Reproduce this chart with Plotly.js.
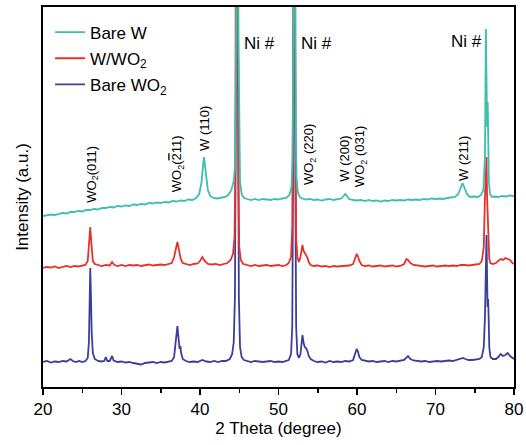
<!DOCTYPE html>
<html>
<head>
<meta charset="utf-8">
<script src="https://cdn.plot.ly/plotly-3.0.1.min.js"></script>
<style>
  html, body { margin: 0; padding: 0; background: #fff; }
  #chart { width: 526px; height: 445px; }
</style>
</head>
<body>
<div id="chart"></div>
<script>
// XRD patterns, [2θ (degree), intensity (a.u., stacked offset included)]
const bareWO2 = [
  [20,25],[20.5,26],[21,24.5],[21.5,25.5],[22,25],[22.5,26],[23,25.5],[23.5,28],[23.8,26],[24.2,25],
  [24.6,26],[25,25],[25.4,26],[25.7,29],[25.85,45],[25.95,100],[26.02,119],[26.1,95],[26.2,55],[26.35,34],
  [26.6,28],[27,26],[27.4,25.5],[27.8,26],[28.0,30],[28.2,26],[28.5,26],[28.8,31],[29.0,26.5],[29.5,25],
  [30,25.5],[30.5,24.5],[31,25],[31.5,24],[32,23.5],[32.5,22.5],[33,24],[33.5,24.5],[34,25],[34.5,24],
  [35,25],[35.5,24.5],[36,25],[36.4,26],[36.7,30],[36.9,45],[37.05,57],[37.12,61],[37.25,50],[37.4,38],
  [37.5,41],[37.6,34],[37.8,28],[38.2,26],[38.7,25],[39.2,25.5],[39.7,25],[40.3,27],[40.8,25.5],[41.3,25],
  [41.8,26],[42.3,25],[42.8,26],[43.3,26],[43.8,28],[44.1,33],[44.3,45],[44.45,90],[44.55,250],[44.65,600],
  [44.75,600],[44.85,300],[44.95,90],[45.1,40],[45.3,30],[45.6,27],[46,26],[46.5,25],[47,26],[47.5,25.5],
  [48,25],[48.5,25.5],[49,26],[49.5,25],[50,25.5],[50.5,25],[51,26],[51.3,27],[51.6,33],[51.75,60],
  [51.85,200],[51.95,600],[52.05,600],[52.15,200],[52.25,60],[52.4,33],[52.6,29],[52.8,33],[52.95,48],[53.05,52],
  [53.2,44],[53.35,40],[53.5,39],[53.65,37],[53.85,31],[54.1,28],[54.5,26],[55,25],[55.5,25.5],[56,24.5],
  [56.5,26],[57,25],[57.5,25.5],[58,25],[58.5,26],[59,25.5],[59.5,27],[59.8,33],[59.95,38],[60.1,36],
  [60.3,30],[60.6,27],[61,26],[61.5,25.5],[62,26],[62.5,25],[63,25.5],[63.5,26],[64,25],[64.5,26],
  [65,25.5],[65.5,26],[66,27],[66.5,31],[66.8,28],[67.2,26.5],[67.7,26],[68.2,25.5],[68.7,26],[69.2,25],
  [69.7,25.5],[70.2,26],[70.7,25.5],[71.2,26],[71.7,26.5],[72.2,26],[72.7,27],[73.2,28],[73.5,29],[73.8,28],
  [74.2,27],[74.7,27],[75.2,27.5],[75.6,28],[75.9,30],[76.15,40],[76.3,70],[76.42,130],[76.5,152],[76.57,110],
  [76.63,80],[76.7,88],[76.77,70],[76.85,40],[77.0,30],[77.3,28],[77.7,28],[78.0,30],[78.3,33],[78.6,31],
  [78.9,32],[79.2,34],[79.5,31],[79.8,29],[80,28]
];

const wWO2 = [
  [20,119],[20.5,120],[21,119.5],[21.5,120.5],[22,119],[22.5,120],[23,121],[23.5,120],[24,121],[24.5,120.5],
  [25,121],[25.4,122],[25.7,126],[25.85,140],[25.95,157],[26.02,160],[26.1,150],[26.2,135],[26.35,126],[26.6,123],
  [27,122],[27.5,121],[28,122],[28.5,121.5],[28.8,125],[29.1,122],[29.5,121],[30,122],[30.5,121],[31,122],
  [31.5,121.5],[32,122],[32.5,121],[33,122],[33.5,122.5],[34,121.5],[34.5,122],[35,122.5],[35.5,122],[36,123],
  [36.4,124],[36.7,130],[36.9,138],[37.05,144],[37.12,145],[37.25,140],[37.4,132],[37.55,128],[37.8,124],[38.2,123],
  [38.7,122],[39.2,123],[39.7,123.5],[40.0,126],[40.3,130],[40.6,126],[41,123],[41.5,122.5],[42,123],[42.5,122],
  [43,123],[43.5,124],[43.9,127],[44.2,133],[44.4,150],[44.5,220],[44.6,600],[44.8,600],[44.9,200],[45.0,140],
  [45.2,127],[45.5,123],[46,122],[46.5,121],[47,122],[47.5,121],[48,121.5],[48.5,122],[49,121],[49.5,121.5],
  [50,122],[50.5,121],[51,122],[51.3,124],[51.6,130],[51.75,160],[51.85,300],[51.95,600],[52.05,600],[52.15,250],
  [52.25,150],[52.4,130],[52.6,125],[52.8,130],[52.95,140],[53.05,142],[53.2,136],[53.35,134],[53.5,133],[53.65,130],
  [53.85,125],[54.1,122],[54.5,121],[55,121.5],[55.5,120.5],[56,121],[56.5,120],[57,121],[57.5,120.5],[58,121],
  [58.5,121],[59,121.5],[59.5,123],[59.8,129],[59.95,133],[60.1,131],[60.3,126],[60.6,122],[61,121],[61.5,121.5],
  [62,120.5],[62.5,121],[63,121.5],[63.5,120.5],[64,121],[64.5,121.5],[65,120.5],[65.5,121],[66,123],[66.3,128],
  [66.5,127],[66.8,124],[67.2,122],[67.7,121.5],[68.2,121],[68.7,120.5],[69.2,121],[69.7,121.5],[70.2,120.5],[70.7,121],
  [71.2,121.5],[71.7,121],[72.2,121.5],[72.7,121],[73.2,122],[73.7,122],[74.2,121.5],[74.7,122],[75.2,122.5],[75.6,123],
  [75.9,126],[76.15,140],[76.3,190],[76.42,228],[76.5,230],[76.57,190],[76.63,170],[76.7,175],[76.77,150],[76.85,128],
  [77.0,124],[77.3,123],[77.7,124],[78.0,126],[78.3,128],[78.6,127],[78.9,129],[79.2,128],[79.5,127],[79.8,124],
  [80,123]
];

const bareW = [
  [20,171],[20.5,171.5],[21,172.5],[21.5,172],[22,173],[22.5,174],[23,173.5],[23.5,175],[24,175],[24.5,176],
  [25,175.5],[25.5,177],[26,177],[26.5,178],[27,177.5],[27.5,179],[28,179],[28.5,180],[29,179.5],[29.5,181],
  [30,180.5],[30.5,181.5],[31,181],[31.5,182.5],[32,182],[32.5,183],[33,182.5],[33.5,184],[34,183.5],[34.5,184.5],
  [35,184],[35.5,185],[36,184.5],[36.5,186],[37,185.5],[37.5,186.5],[38,186],[38.5,187.5],[39,187],[39.5,189],
  [39.9,193],[40.2,205],[40.4,222],[40.5,230],[40.6,224],[40.8,208],[41.0,197],[41.3,191],[41.7,189],[42.2,188.5],
  [42.7,189.5],[43.2,190],[43.6,192],[44.0,197],[44.3,206],[44.45,220],[44.55,300],[44.65,600],[44.8,600],[44.9,350],
  [45.0,230],[45.1,205],[45.3,193],[45.6,189],[46,188],[46.5,187],[47,188],[47.5,187],[48,188],[48.5,187.5],
  [49,187],[49.5,188],[50,187.5],[50.5,188.5],[51,189],[51.4,192],[51.65,200],[51.8,230],[51.9,600],[52.1,600],
  [52.2,260],[52.3,210],[52.45,195],[52.7,190],[53,188.5],[53.5,187.5],[54,188],[54.5,187],[55,187.5],[55.5,186.5],
  [56,187.5],[56.5,188],[57,187],[57.5,187.5],[58,188.5],[58.3,191],[58.5,193],[58.7,191],[59,188],[59.5,187],
  [60,186.5],[60.5,187],[61,186],[61.5,187],[62,186],[62.5,186.5],[63,185.5],[63.5,186.5],[64,186],[64.5,187],
  [65,186.5],[65.5,187],[66,186.5],[66.5,187.5],[67,187],[67.5,187.5],[68,187],[68.5,188],[69,187.5],[69.5,188.5],
  [70,188],[70.5,188.5],[71,188],[71.5,189],[72,189.5],[72.5,190],[72.9,193],[73.2,199],[73.45,204],[73.7,199],
  [74.0,193],[74.4,190],[74.9,190.5],[75.4,190],[75.8,192],[76.1,197],[76.3,230],[76.42,358],[76.5,300],[76.57,260],
  [76.65,285],[76.72,250],[76.8,205],[76.95,193],[77.2,190],[77.6,190.5],[78,190],[78.5,191],[79,190.5],[79.5,191.5],
  [80,191]
];

// drawn bottom to top; legend lists Bare W first
const seriesNames = ['Bare WO<sub>2</sub>', 'W/WO<sub>2</sub>', 'Bare W'];
const seriesColors = ['#3b3f9b', '#e5322b', '#3dbfad'];
const seriesRanks = [3, 2, 1];
const seriesData = [bareWO2, wWO2, bareW];

const xTicks = [20, 30, 40, 50, 60, 70, 80];

const traces = seriesData.map((pts, i) => ({
  type: 'scatter',
  mode: 'lines',
  x: pts.map(p => p[0]),
  y: pts.map(p => p[1]),
  name: seriesNames[i],
  legendgroup: 'g' + i,
  legendrank: seriesRanks[i],
  line: { color: seriesColors[i], width: 1.8 },
  hoverinfo: 'skip'
}));

const font = { family: 'Liberation Sans, Arial, sans-serif', color: '#000' };

// Peak labels: [text, 2θ, height, rotated]
const peakLabels = [
  ['Ni #', 47.6, 344, false],
  ['Ni #', 54.9, 344, false],
  ['Ni #', 74.0, 346, false],
  ['WO<sub>2</sub>(011)', 26.2, 213, true],
  ['WO<sub>2</sub>(<span style="text-decoration:overline">2</span>11)', 37.1, 223, true],
  ['W (110)', 40.5, 259, true],
  ['WO<sub>2</sub> (220)', 53.9, 232, true],
  ['W (200)', 58.3, 228, true],
  ['WO<sub>2</sub> (031)', 60.4, 230, true],
  ['W (211)', 73.5, 229, true]
];

const annotations = peakLabels.map(([t, x, y, rot]) => ({
  text: t, x: x, y: y, xref: 'x', yref: 'y',
  showarrow: false,
  textangle: rot ? -90 : 0,
  font: Object.assign({}, font, { size: rot ? 13 : 17 }),
  xanchor: 'center', yanchor: 'middle'
}));

const layout = {
  width: 526, height: 445,
  margin: { l: 43, r: 12, t: 7, b: 58 },
  paper_bgcolor: '#fff', plot_bgcolor: '#fff',
  font: font,
  showlegend: true,
  legend: {
    x: 0.015, y: 0.98, xanchor: 'left', yanchor: 'top',
    traceorder: 'grouped', tracegroupgap: 1,
    bgcolor: 'rgba(0,0,0,0)',
    font: Object.assign({}, font, { size: 17 })
  },
  xaxis: {
    range: [20, 80],
    tickvals: xTicks,
    ticktext: xTicks.map(String),
    ticks: 'outside', ticklen: 6, tickwidth: 1.5, tickcolor: '#000',
    minor: { dtick: 5, tick0: 20, ticks: 'outside', ticklen: 4, tickwidth: 1.5, tickcolor: '#000', showgrid: false },
    showline: true, linewidth: 1.6, linecolor: '#000', mirror: true,
    showgrid: false, zeroline: false,
    tickfont: Object.assign({}, font, { size: 17 }),
    title: { text: '2 Theta (degree)', font: Object.assign({}, font, { size: 17 }), standoff: 4 }
  },
  yaxis: {
    range: [0, 380],
    showticklabels: false, ticks: '',
    showline: true, linewidth: 1.6, linecolor: '#000', mirror: true,
    showgrid: false, zeroline: false,
    title: { text: 'Intensity (a.u.)', font: Object.assign({}, font, { size: 17 }), standoff: 8 }
  },
  annotations: annotations
};

Plotly.newPlot('chart', traces, layout, { displayModeBar: false, staticPlot: true });
</script>
</body>
</html>
